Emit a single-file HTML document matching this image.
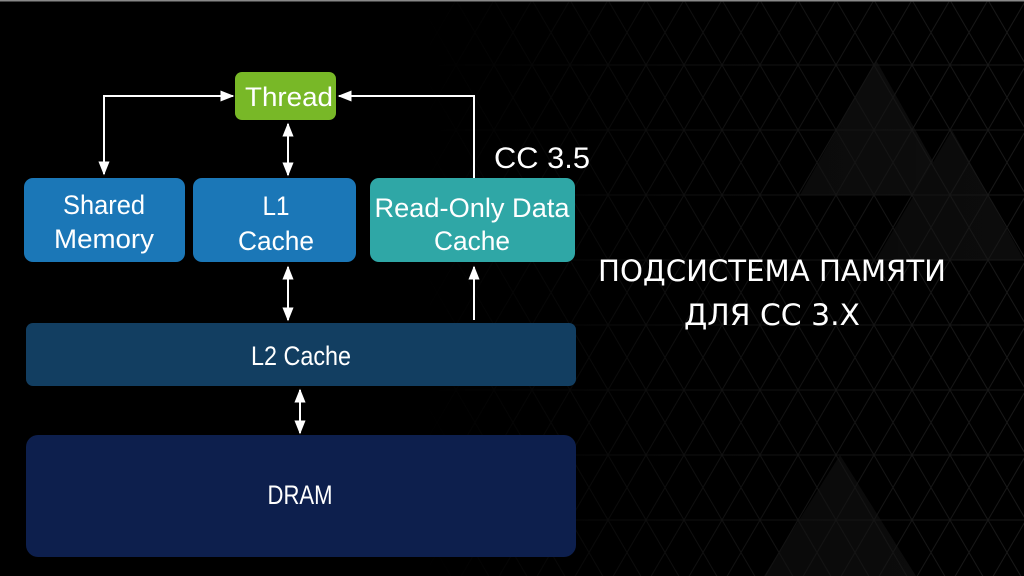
<!DOCTYPE html>
<html><head><meta charset="utf-8"><style>
html,body{margin:0;padding:0;background:#000;}
body{width:1024px;height:576px;overflow:hidden;position:relative;}
svg{position:absolute;left:0;top:0;}
</style></head><body>
<svg width="1024" height="576" viewBox="0 0 1024 576" xmlns="http://www.w3.org/2000/svg">
<defs>
<linearGradient id="fade" x1="0" y1="0" x2="1" y2="0">
<stop offset="0" stop-color="#000" stop-opacity="1"/>
<stop offset="0.5" stop-color="#000" stop-opacity="0.3"/>
<stop offset="1" stop-color="#000" stop-opacity="0"/>
</linearGradient>
<pattern id="tri" width="76" height="130" patternUnits="userSpaceOnUse">
<path d="M0 0H76M0 65H76M0 130H76M0 0L76 130M76 0L0 130M38 0L76 65M38 0L0 65M0 65L38 130M76 65L38 130" stroke="#181818" stroke-width="1" fill="none"/>
</pattern>
<marker id="ah" viewBox="0 0 10 10" refX="9" refY="5" markerWidth="7" markerHeight="7" orient="auto-start-reverse">
<path d="M0 1L10 5L0 9Z" fill="#fff"/>
</marker>
</defs>
<rect width="1024" height="576" fill="#000"/>
<polygon points="876,60 952,195 800,195" fill="#0e0e0e"/>
<polygon points="952,130 1024,260 876,260" fill="#0c0c0c"/>
<polygon points="840,455 916,576 764,576" fill="#0d0d0d"/>
<rect x="420" y="0" width="604" height="576" fill="url(#tri)"/>
<rect x="420" y="0" width="604" height="576" fill="url(#fade)"/>
<rect x="0" y="0" width="1024" height="1.5" fill="#888"/>

<g stroke="#fff" stroke-width="2" fill="none">
<path d="M104 174V96H233" marker-start="url(#ah)" marker-end="url(#ah)"/>
<path d="M474 178V96H339" marker-end="url(#ah)"/>
<path d="M288 124V175" marker-start="url(#ah)" marker-end="url(#ah)"/>
<path d="M288 267V320" marker-start="url(#ah)" marker-end="url(#ah)"/>
<path d="M474 320V267" marker-end="url(#ah)"/>
<path d="M300 390V433" marker-start="url(#ah)" marker-end="url(#ah)"/>
</g>

<rect x="235" y="72" width="101" height="48" rx="7" fill="#78b827"/>
<rect x="24" y="178" width="161" height="84" rx="9" fill="#1b77b7"/>
<rect x="193" y="178" width="163" height="84" rx="9" fill="#1b77b7"/>
<rect x="370" y="178" width="205" height="84" rx="9" fill="#2fa7a6"/>
<rect x="26" y="323" width="550" height="63" rx="7" fill="#123e61"/>
<rect x="26" y="435" width="550" height="122" rx="12" fill="#0d1f4d"/>

<g font-family="Liberation Sans, sans-serif" fill="#fff" text-anchor="middle" font-size="27" lengthAdjust="spacingAndGlyphs">
<text x="289" y="106" textLength="88" lengthAdjust="spacingAndGlyphs">Thread</text>
<text x="104" y="214" textLength="82" lengthAdjust="spacingAndGlyphs">Shared</text>
<text x="104" y="248" textLength="100" lengthAdjust="spacingAndGlyphs">Memory</text>
<text x="276" y="215" textLength="27" lengthAdjust="spacingAndGlyphs">L1</text>
<text x="276" y="250" textLength="76" lengthAdjust="spacingAndGlyphs">Cache</text>
<text x="472" y="217" textLength="195" lengthAdjust="spacingAndGlyphs">Read-Only Data</text>
<text x="472" y="250" textLength="76" lengthAdjust="spacingAndGlyphs">Cache</text>
<text x="301" y="365" textLength="100" lengthAdjust="spacingAndGlyphs">L2 Cache</text>
<text x="300" y="504" textLength="65" lengthAdjust="spacingAndGlyphs">DRAM</text>
<text x="542" y="168" font-size="30" textLength="96" lengthAdjust="spacingAndGlyphs">CC 3.5</text>
</g>
<g font-family="DejaVu Sans, Liberation Sans, sans-serif" fill="#fff" text-anchor="middle" font-size="29">
<text x="772" y="281" textLength="348" lengthAdjust="spacingAndGlyphs">ПОДСИСТЕМА ПАМЯТИ</text>
<text x="772" y="325" textLength="176" lengthAdjust="spacingAndGlyphs">ДЛЯ CC 3.X</text>
</g>
</svg>
</body></html>
